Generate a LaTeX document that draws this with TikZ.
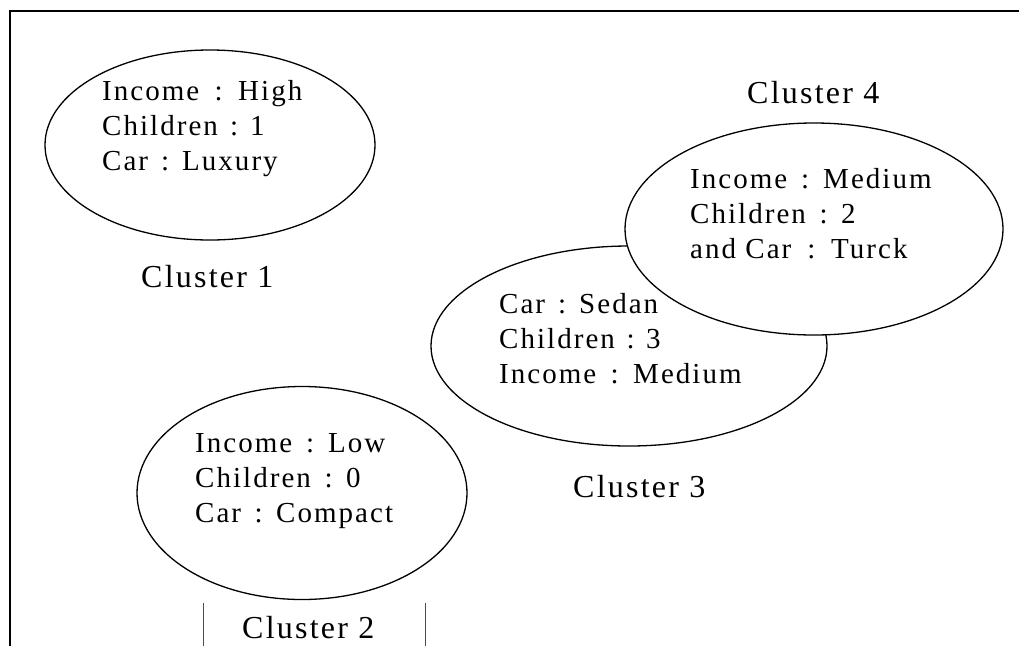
\documentclass[tikz,border=0pt]{standalone}
\usepackage{fontspec}
\setmainfont{Liberation Serif}[LetterSpace=7]
\usetikzlibrary{shapes.geometric}
% key/value line: key #1, colon centred in the gap, value #3 starting at #2pt
\newcommand\kv[3]{\makebox[#2pt][s]{#1\hfil:\hfil}#3}
\begin{document}
\begin{tikzpicture}[x=1pt,y=-1pt,
  cluster/.style={ellipse,draw,line width=1.3pt,inner sep=0pt},
  attr/.style={anchor=base west,inner sep=0pt,font=\fontsize{29}{35}\selectfont},
  title/.style={anchor=base west,inner sep=0pt,font=\fontsize{32}{38}\selectfont},
  frame/.style={line width=2pt},
  tick/.style={line width=0.8pt,black!70}]
\useasboundingbox (0,0) rectangle (1019,646);
% outer frame (top and left edges)
\draw[frame] (10,646) -- (10,11) -- (1019,11);
% the four clusters
\node[cluster,minimum width=330pt,minimum height=190pt] (c1) at (210,145) {};
\node[cluster,minimum width=330pt,minimum height=213pt] (c2) at (302,493) {};
\node[cluster,minimum width=396pt,minimum height=200pt] (c3) at (629,346) {};
\node[cluster,fill=white,minimum width=378pt,minimum height=212pt] (c4) at (814,229) {};
% cluster 1
\node[attr] (c1a) at (102,100) {\kv{Income}{136}{High}};
\node[attr] (c1b) at (102,135) {\kv{Children}{148}{1}};
\node[attr] (c1c) at (102,170) {\kv{Car}{80}{Luxury}};
\node[title] (t1) at (141,287) {Cluster 1};
% cluster 4
\node[title] (t4) at (747,103) {Cluster 4};
\node[attr] (c4a) at (690,188) {\kv{Income}{133}{Medium}};
\node[attr] (c4b) at (690,223) {\kv{Children}{151}{2}};
\node[attr] (c4c) at (690,258) {\kv{and Car}{141}{Turck}};
% cluster 3
\node[attr] (c3a) at (499,313) {\kv{Car}{80}{Sedan}};
\node[attr] (c3b) at (499,348) {\kv{Children}{147}{3}};
\node[attr] (c3c) at (499,383) {\kv{Income}{134}{Medium}};
\node[title] (t3) at (573,497) {Cluster 3};
% cluster 2
\node[attr] (c2a) at (195,452) {\kv{Income}{133}{Low}};
\node[attr] (c2b) at (195,487) {\kv{Children}{151}{0}};
\node[attr] (c2c) at (195,522) {\kv{Car}{81}{Compact}};
\node[title] (t2) at (242,638) {Cluster 2};
% short rules beside the cluster 2 caption
\draw[tick] (203,603) -- (203,646);
\draw[tick] (425,603) -- (425,646);
\end{tikzpicture}
\end{document}
